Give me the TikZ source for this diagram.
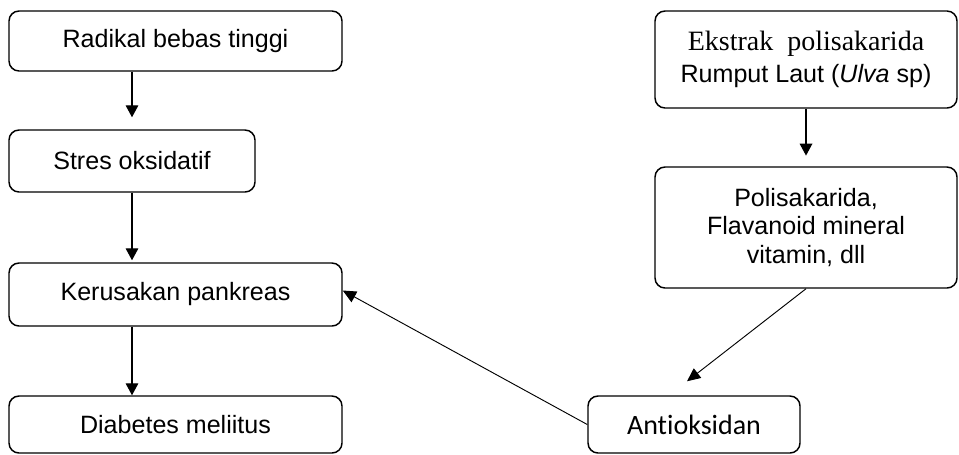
\documentclass[tikz,border=0pt]{standalone}
\usepackage{fontspec}
\setmainfont{Liberation Sans}
\newfontfamily\serifpart{Liberation Serif}
\newfontfamily\antifont[Ligatures=NoCommon]{Carlito}
\usetikzlibrary{arrows.meta}

\begin{document}
\begin{tikzpicture}[
  x=0.75pt, y=-0.75pt,
  box/.style={draw, rounded corners=7.5pt, line width=1.1pt, align=center,
    inner sep=0pt, font=\fontsize{18.8}{21.6}\selectfont},
  wide/.style={minimum width=249.75pt},
  flow/.style={-{Triangle[length=9pt, width=9.5pt]}, line width=0.9pt},
  link/.style={-{Triangle[length=10pt, width=9pt]}, line width=0.7pt},
]
\useasboundingbox (0,0) rectangle (959,454);

% ---------- LEFT COLUMN ----------
\node[box, wide, minimum height=45pt] (radikal) at (175.5,41) {Radikal bebas tinggi};
\node[box, minimum width=184.5pt, minimum height=46.5pt] (stres) at (132,161) {Stres oksidatif};
\node[box, wide, minimum height=47.25pt] (kerusakan) at (175.5,294.5) {Kerusakan pankreas};
\node[box, wide, minimum height=42.75pt] (diabetes) at (175.5,424.5) {Diabetes meliitus};

% ---------- RIGHT COLUMN ----------
\node[box, minimum width=226.5pt, minimum height=72.75pt] (ekstrak) at (806,59.5)
  {{\serifpart\fontsize{21}{21.6}\selectfont Ekstrak~ polisakarida}\\[2pt]Rumput Laut (\textit{Ulva} sp)};
\node[box, minimum width=226.5pt, minimum height=90.75pt] (zat) at (806,227.5)
  {Polisakarida,\\Flavanoid mineral\\vitamin, dll};
\node[box, minimum width=159pt, minimum height=42.75pt,
  font=\antifont\fontsize{21}{24}\selectfont] (antiok) at (694,424.5) {Antioksidan};

% ---------- ARROWS ----------
\draw[flow] (radikal.south -| stres.north) -- ([yshift=9pt]stres.north);
\draw[flow] (stres.south) -- ([yshift=1.5pt]stres.south |- kerusakan.north);
\draw[flow] (stres.south |- kerusakan.south) -- (stres.south |- diabetes.north);
\draw[flow] (ekstrak.south) -- ([yshift=8pt]zat.north);
\draw[link] (zat.south) -- ([xshift=-5.25pt, yshift=10.5pt]antiok.north);
\draw[link] (antiok.west) -- ([yshift=3pt]kerusakan.east);

\end{tikzpicture}
\end{document}
